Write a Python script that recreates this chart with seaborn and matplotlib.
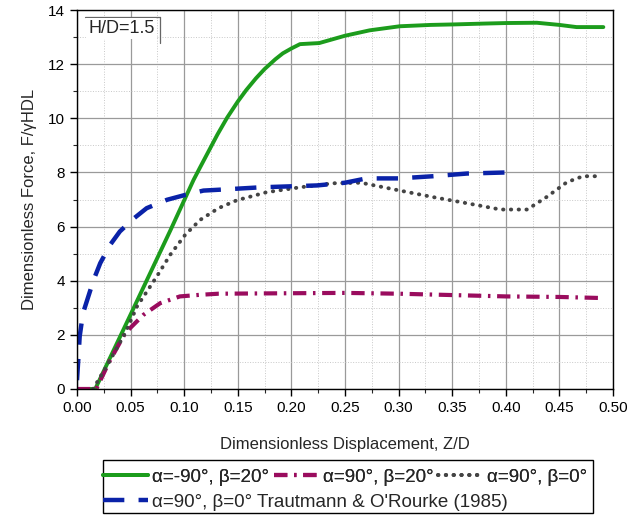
import numpy as np
import pandas as pd
import seaborn as sns
import matplotlib
matplotlib.use("Agg")
import matplotlib.pyplot as plt
from matplotlib.patches import Rectangle
from matplotlib.lines import Line2D

# green: alpha=-90, beta=20
x_green = [0.0, 0.017, 0.05, 0.087, 0.1087, 0.115, 0.131, 0.14, 0.15, 0.158, 0.167, 0.175,
           0.185, 0.192, 0.2, 0.208, 0.226, 0.25, 0.273, 0.301, 0.33, 0.353, 0.38, 0.401,
           0.429, 0.45, 0.466, 0.491]
y_green = [0.0, 0.0, 2.75, 5.85, 7.72, 8.2, 9.4, 10.02, 10.62, 11.05, 11.48, 11.82,
           12.18, 12.4, 12.58, 12.74, 12.78, 13.05, 13.25, 13.4, 13.45, 13.47, 13.5, 13.52,
           13.53, 13.45, 13.37, 13.37]

# magenta: alpha=90, beta=20
x_mag = [0.0, 0.018, 0.03, 0.045, 0.062, 0.0776, 0.096, 0.115, 0.132, 0.17, 0.25, 0.3, 0.35,
         0.4, 0.45, 0.49]
y_mag = [0.0, 0.0, 1.0, 2.07, 2.74, 3.17, 3.42, 3.48, 3.52, 3.53, 3.55, 3.52, 3.47,
         3.42, 3.4, 3.36]

# gray dotted: alpha=90, beta=0
x_gray = [0.015, 0.03, 0.045, 0.056, 0.0745, 0.087, 0.101, 0.115, 0.132, 0.149, 0.177, 0.208,
          0.239, 0.265, 0.30, 0.332, 0.364, 0.395, 0.42, 0.438, 0.457, 0.472, 0.488]
y_gray = [0.0, 1.0, 2.07, 3.05, 4.16, 4.96, 5.7, 6.25, 6.68, 6.97, 7.27, 7.45,
          7.6, 7.62, 7.34, 7.09, 6.86, 6.63, 6.63, 7.09, 7.64, 7.86, 7.86]

# blue dashed: Trautmann & O'Rourke (1985)
x_blue = [0.0, 0.0, 0.0016, 0.0025, 0.0056, 0.0155, 0.0217, 0.031, 0.04, 0.053, 0.065, 0.084,
          0.101, 0.118, 0.132, 0.171, 0.224, 0.25, 0.27, 0.30, 0.332, 0.364, 0.401, 0.409]
y_blue = [0.0, 0.65, 1.33, 1.94, 2.8, 4.03, 4.65, 5.33, 5.82, 6.3, 6.68, 6.99,
          7.17, 7.33, 7.36, 7.45, 7.52, 7.62, 7.78, 7.78, 7.86, 7.96, 8.0, 8.0]

lab_green = "α=-90°, β=20°"
lab_mag = "α=90°, β=20°"
lab_gray = "α=90°, β=0°"
lab_blue = "α=90°, β=0° Trautmann & O'Rourke (1985)"

sns.set_style("ticks")
plt.rcParams['font.family'] = ['Liberation Sans', 'DejaVu Sans']

fig = plt.figure(figsize=(6.28, 5.17), dpi=100)
ax = fig.add_axes([0.1226, 0.2476, 0.8535, 0.733])

c_green = "#1c9c1c"
c_mag = "#9a0c5e"
c_gray = "#444444"
c_blue = "#0a22a8"

dash_mag = [3.2, 1.6, 0.6, 1.6]
dash_gray = [0.1, 1.9]
dash_blue = [4.8, 3.2]

sns.lineplot(x=x_green, y=y_green, ax=ax, color=c_green, lw=2.8, sort=False)
sns.lineplot(x=x_mag, y=y_mag, ax=ax, color=c_mag, lw=3, sort=False)
sns.lineplot(x=x_gray, y=y_gray, ax=ax, color=c_gray, lw=2.8, sort=False)
sns.lineplot(x=x_blue, y=y_blue, ax=ax, color=c_blue, lw=3.2, sort=False)

lines = ax.get_lines()
lines[1].set_dashes(dash_mag)
lines[2].set_dashes(dash_gray)
lines[2].set_dash_capstyle("round")
lines[3].set_dashes(dash_blue)

ax.set_xlim(0, 0.5)
ax.set_ylim(0, 14)
ax.set_xticks(np.arange(0, 0.501, 0.05))
ax.set_xticks(np.arange(0.025, 0.5, 0.05), minor=True)
ax.set_yticks(np.arange(0, 14.1, 2))
ax.set_yticks(np.arange(1, 14, 2), minor=True)
ax.set_xticklabels([f"{v:.2f}" for v in np.arange(0, 0.501, 0.05)])
ax.tick_params(axis="both", which="major", labelsize=11, length=5, direction="out",
               colors="black", width=1)
ax.tick_params(axis="both", which="minor", length=3, direction="out", width=0.8)
ax.grid(which="major", color="#9a9a9a", lw=0.9)
ax.grid(which="minor", color="#c8c8c8", lw=0.7, ls=":")
for s in ax.spines.values():
    s.set_color("black")
    s.set_linewidth(1.0)

ax.set_xlabel("Dimensionless Displacement, Z/D", fontsize=12, labelpad=16)
ax.set_ylabel("Dimensionless Force, F/γHDL", fontsize=12, labelpad=8)

# H/D label with top/right frame lines
ax.text(0.021, 0.952, "H/D=1.5", fontsize=13, va="center", ha="left", transform=ax.transAxes,
        bbox=dict(boxstyle="square,pad=0.1", fc="white", ec="none"))
ax.plot([0.015, 0.155], [0.982, 0.982], transform=ax.transAxes, color="#666666", lw=0.9)
ax.plot([0.155, 0.155], [0.913, 0.982], transform=ax.transAxes, color="#666666", lw=0.9)

# legend below the axes
h_green = Line2D([], [], color=c_green, lw=2.8)
h_mag = Line2D([], [], color=c_mag, lw=3, dashes=dash_mag)
h_gray = Line2D([], [], color=c_gray, lw=2.8, dashes=dash_gray, dash_capstyle="round")
h_blue = Line2D([], [], color=c_blue, lw=3.2, dashes=dash_blue)

leg_kw = dict(frameon=False, fontsize=13.5, handlelength=2.4, handletextpad=0.22,
              columnspacing=0.25, borderpad=0, borderaxespad=0)
leg1 = fig.legend([h_green, h_mag, h_gray], [lab_green, lab_mag, lab_gray], ncol=3,
                  loc="center left", bbox_to_anchor=(0.164, 0.0774), **leg_kw)
leg2 = fig.legend([h_blue], [lab_blue], loc="center left", bbox_to_anchor=(0.164, 0.029),
                  **leg_kw)
fig.add_artist(leg1)
fig.patches.append(Rectangle((0.164, 0.0077), 0.78, 0.1025, transform=fig.transFigure,
                             fill=False, ec="black", lw=1.0))

fig.savefig("out.png", dpi=100)
